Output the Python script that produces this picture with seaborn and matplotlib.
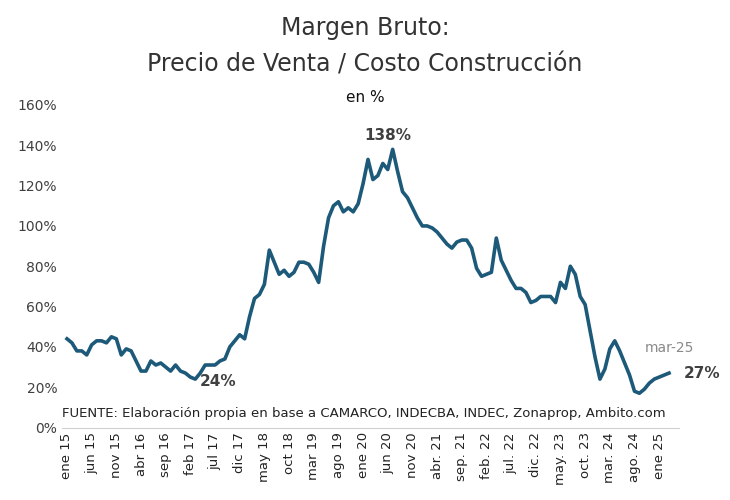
import numpy as np
import pandas as pd
import seaborn as sns
import matplotlib.pyplot as plt

# Monthly gross margin, ene 2015 .. mar 2025 (%)
margen = [44, 42, 38, 38, 36, 41, 43, 43, 42, 45, 44, 36, 39, 38, 33, 28, 28, 33, 31, 32,
          30, 28, 31, 28, 27, 25, 24, 27, 31, 31, 31, 33, 34, 40, 43, 46, 44, 55, 64, 66,
          71, 88, 82, 76, 78, 75, 77, 82, 82, 81, 77, 72, 90, 104, 110, 112, 107, 109, 107, 111,
          121, 133, 123, 125, 131, 128, 138, 127, 117, 114, 109, 104, 100, 100, 99, 97, 94, 91, 89, 92,
          93, 93, 89, 79, 75, 76, 77, 94, 83, 78, 73, 69, 69, 67, 62, 63, 65, 65, 65, 62,
          72, 69, 80, 76, 65, 61, 48, 35, 24, 29, 39, 43, 38, 32, 26, 18, 17, 19, 22, 24,
          25, 26, 27]
tick_labels = ["ene 15", "jun 15", "nov 15", "abr 16", "sep 16", "feb 17", "jul 17", "dic 17",
               "may 18", "oct 18", "mar 19", "ago 19", "ene 20", "jun 20", "nov 20", "abr. 21",
               "sep. 21", "feb. 22", "jul. 22", "dic. 22", "may. 23", "oct. 23", "mar. 24",
               "ago. 24", "ene 25"]

df = pd.DataFrame({"mes": np.arange(len(margen)), "margen": margen})

fig, ax = plt.subplots(figsize=(7.3, 5.0), dpi=100)
fig.subplots_adjust(left=0.085, right=0.93, top=0.79, bottom=0.145)
sns.lineplot(data=df, x="mes", y="margen", color="#1d5a7a", linewidth=2.6, ax=ax)

ax.set_ylim(0, 160)
ax.set_yticks(range(0, 161, 20))
ax.set_yticklabels([f"{v}%" for v in range(0, 161, 20)], fontsize=10, color="#404040")
ax.set_xlim(-1, len(margen) + 1)
ax.set_xticks(range(0, 121, 5))
ax.set_xticklabels(tick_labels, rotation=90, fontsize=9.5, color="#222222")
ax.set_xlabel("")
ax.set_ylabel("")
for s in ["top", "right", "left"]:
    ax.spines[s].set_visible(False)
ax.spines["bottom"].set_color("#d0d0d0")
ax.tick_params(length=0)

imax = int(np.argmax(margen))
ax.text(imax - 1, margen[imax] + 3, f"{margen[imax]}%", ha="center", va="bottom",
        fontsize=11, fontweight="bold", color="#404040")
imin = 26
ax.text(imin + 1, margen[imin] - 1, f"{margen[imin]}%", ha="left", va="center",
        fontsize=11, fontweight="bold", color="#404040")
last = len(margen) - 1
ax.text(last + 3, margen[last], f"{margen[last]}%", ha="left", va="center",
        fontsize=11, fontweight="bold", color="#404040", clip_on=False)
ax.text(last, margen[last] + 9, "mar-25", ha="center", va="bottom",
        fontsize=10, color="#8a8a8a", clip_on=False)
ax.text(-1, 7, "FUENTE: Elaboración propia en base a CAMARCO, INDECBA, INDEC, Zonaprop, Ambito.com",
        fontsize=9.5, color="#222222", va="center")

fig.text(0.5, 0.945, "Margen Bruto:", ha="center", va="center", fontsize=17, color="#333333")
fig.text(0.5, 0.87, "Precio de Venta / Costo Construcción", ha="center", va="center",
         fontsize=17, color="#333333")
fig.text(0.5, 0.805, "en %", ha="center", va="center", fontsize=11, color="#111111")

fig.savefig("out.png", dpi=100)
